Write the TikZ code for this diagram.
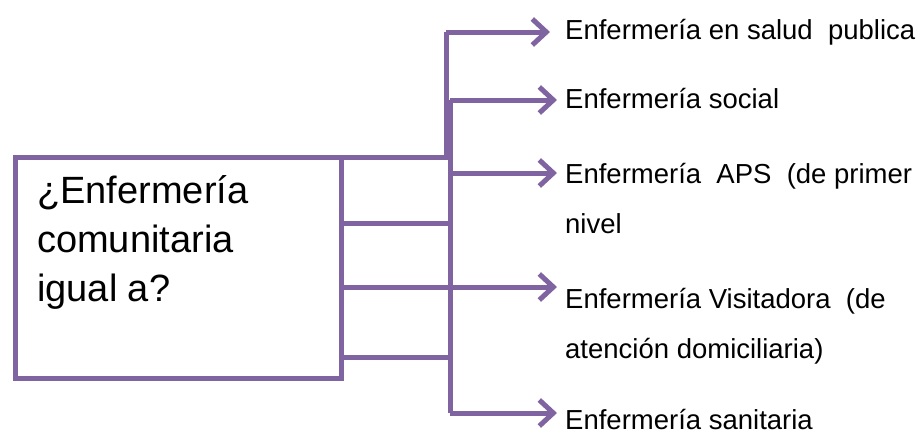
\documentclass[tikz,border=0pt]{standalone}
\usepackage{fontspec}
\setmainfont{Liberation Sans}
\usetikzlibrary{arrows.meta}
\definecolor{lila}{HTML}{8064A2}
\begin{document}
\begin{tikzpicture}[x=1pt, y=-1pt,
    link style/.style={draw=lila, line width=5pt},
    arrow style/.style={link style, -{Straight Barb[length=14pt, width=26pt]}},
    label style/.style={anchor=base west, inner sep=0pt, align=left,
        font=\fontsize{27.5}{50}\selectfont},]
    \useasboundingbox (0,0) rectangle (922,432);

    % box with the question
    \node[draw=lila, line width=5pt, minimum width=326pt, minimum height=221pt,
        inner sep=0pt, outer sep=0pt] (q) at (178,267.5) {};
    \node[anchor=base west, inner sep=0pt, align=left,
        font=\fontsize{38}{49}\selectfont] (qt) at (37,301)
        {¿Enfermería\\comunitaria\\igual a?};

    % labels (multi-line: placed at the last baseline)
    \node[label style] (l1) at (565,39) {Enfermería en salud~ publica};
    \node[label style] (l2) at (565,108) {Enfermería social};
    \node[label style] (l3) at (565,233) {Enfermería~ APS~ (de primer\\nivel};
    \node[label style] (l4) at (565,358) {Enfermería Visitadora~ (de\\atención domiciliaria)};
    \node[label style] (l5) at (565,429) {Enfermería sanitaria};

    \coordinate (j1) at (446,157);
    \coordinate (b1) at (446,32);
    \coordinate (b2) at (450,100);
    \coordinate (b3) at (450,173);
    \coordinate (b5) at (450,413);
    \coordinate (e2) at (341,223);
    \coordinate (e4) at (341,287);
    \coordinate (e5) at (341,357);

    % bus
    \draw[style=link style] (q.north east) -- (j1) -- (b1);
    \draw[style=link style] (b2) -- (b5);
    \draw[style=link style] (e2) -- (e2 -| b2);
    \draw[style=link style] (e5) -- ([xshift=3pt]e5 -| b2);

    % arrows
    \draw[style=arrow style, shorten >=15pt] (b1) -- (b1 -| l1.west);
    \draw[style=arrow style, shorten >=8pt] (b2) -- (b2 -| l2.west);
    \draw[style=arrow style, shorten >=8pt] (b3) -- (b3 -| l3.west);
    \draw[style=arrow style, shorten >=8pt] (e4) -- (e4 -| l4.west);
    \draw[style=arrow style, shorten >=8pt] (b5) -- (b5 -| l5.west);

\end{tikzpicture}
\end{document}
